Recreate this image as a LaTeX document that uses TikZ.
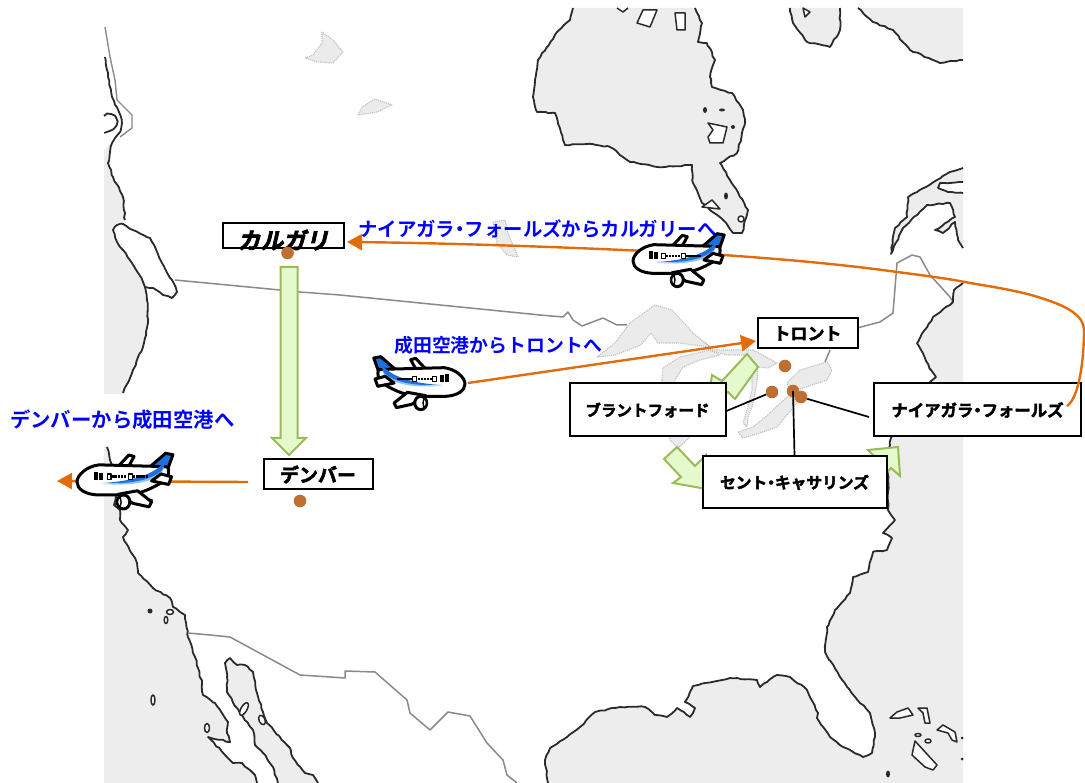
\documentclass[tikz,border=0pt]{standalone}
\usepackage{fontspec}
\usetikzlibrary{arrows.meta,decorations.pathmorphing}
\newfontfamily\cjkreg{Noto Sans CJK JP}[BoldFont={Noto Sans CJK JP Bold}]
\newfontfamily\cjkslant{Noto Sans CJK JP Bold}[FakeSlant=0.22,FakeBold=3]
\newfontfamily\cjkheavy{Noto Sans CJK JP Bold}[FakeBold=2.5]
\newcommand{\nk}{\kern-.25em・\kern-.25em}
\definecolor{sea}{HTML}{EDEDED}
\definecolor{lake}{HTML}{EBEBEB}
\definecolor{coast}{HTML}{2A2A2A}
\definecolor{bord}{HTML}{8A8A8A}
\definecolor{route}{HTML}{E36C0A}
\definecolor{pin}{HTML}{BE7032}
\definecolor{gedge}{HTML}{9BBB59}
\definecolor{gfill}{HTML}{E4F9CC}
\definecolor{planeblue}{HTML}{1F6FDC}
\definecolor{planesky}{HTML}{8FC4F0}
\tikzset{
  jag/.style={decorate,decoration={random steps,segment length=4pt,amplitude=.7pt}},
  seafill/.style={fill=sea,draw=coast,line width=1.8pt,line join=round},
  isle/.style={fill=white,draw=coast,line width=1.5pt,line join=round},
  rock/.style={fill=coast,draw=none},
  shore/.style={draw=coast,line width=1.8pt,line join=round,jag},
  border/.style={draw=bord,line width=1.5pt,line join=round},
  pale/.style={fill=lake,draw=lightgray,line width=1.1pt,densely dotted,line join=round},
  block/.style={draw=gedge,line width=2pt,line join=miter,fill=gfill},
  flight/.style={draw=route,line width=2.4pt,-{Triangle[length=15pt,width=16pt]}},
  label/.style={draw=black,line width=2pt,fill=white,inner sep=0pt,align=center,text=black},
  leader/.style={draw=black,line width=1.7pt},
  pinmark/.style={circle,fill=pin,draw=none,minimum size=12.6pt,inner sep=0pt},
  bluetext/.style={text=blue,inner sep=0pt,anchor=west},
  plane/.pic={
    \begin{scope}[shift={(-298,-115)},line width=3pt,line join=round]
      \draw[fill=white] (135,42) -- (150,38) -- (178,68) -- (150,70) -- cycle;
      \draw[fill=planeblue] (24,37) -- (45,33) -- (90,72) -- (38,76) -- cycle;
      \draw[fill=white] (85,70) -- (235,66) .. controls (270,70) and (298,95) .. (298,115)
        .. controls (298,135) and (275,150) .. (240,152) -- (160,152)
        .. controls (110,150) and (70,125) .. (45,110)
        .. controls (36,100) and (35,85) .. (38,72) -- cycle;
      \fill[planesky] (50,72) .. controls (80,100) and (130,122) .. (232,120)
        .. controls (140,128) and (85,115) .. (55,90) -- cycle;
      \fill[planeblue] (42,50) .. controls (70,90) and (130,112) .. (225,118)
        .. controls (140,122) and (85,108) .. (55,82) -- cycle;
      \draw[fill=white] (28,100) -- (58,92) -- (85,112) -- (36,122) -- cycle;
      \draw[fill=white] (125,140) -- (85,172) -- (92,186) -- (138,176) -- (180,150) -- cycle;
      \draw[fill=white] (165,172) ellipse [x radius=18,y radius=20];
      \draw[fill=white,line width=1.4pt] (177,172) ellipse [x radius=5,y radius=12];
      \foreach \wx in {95,104,113,122,131,157,166,175,184,193}
        \fill (\wx,96) rectangle ++(7,8);
      \draw[line width=1.2pt,fill=white] (140,92) rectangle (152,108);
      \draw[line width=1.2pt,fill=white] (201,92) rectangle (212,108);
      \fill (224,88) rectangle (234,108);
      \fill (238,86) rectangle (249,108);
    \end{scope}
  }
}
\begin{document}
\begin{tikzpicture}[x=1pt,y=-1pt]
\pgfmathsetseed{7}
\useasboundingbox (0,0) rectangle (1085,783);
\fill[white] (0,0) rectangle (1085,783);

% ---- Pacific
\path[fill=sea] (104,150) -- (112,143) -- (108,163) -- (113,177) -- (123,197) -- (125,220) -- (117,225) -- (145,287) -- (147,300) -- (148,323) -- (143,347) -- (133,370) -- (123,393) -- (107,447) -- (110,460) -- (120,510) -- (120,520) -- (128,530) -- (123,537) -- (137,563) -- (138,573) -- (153,588) -- (170,598) -- (173,607) -- (185,615) -- (188,637) -- (195,657) -- (202,683) -- (203,695) -- (215,703) -- (228,722) -- (227,733) -- (230,742) -- (208,737) -- (233,763) -- (242,763) -- (255,775) -- (257,783) -- (104,783) -- cycle;
\draw[shore] (105,57) -- (108,77) -- (112,97) -- (119,112) .. controls (122,120) and (122,128) .. (118,134) -- (112,143) -- (110,152) -- (108,163) -- (113,177) -- (123,197) -- (125,220);
\draw[shore] (104,116) .. controls (110,112) and (116,114) .. (116,122) .. controls (116,128) and (110,132) .. (104,132);
\draw[draw=bord,line width=1.4pt,line join=round] (105,27) -- (110,57) -- (115,80) -- (117,100) -- (132,115) -- (132,128) -- (120,137);
\draw[shore,fill=white] (113,230) -- (117,225) -- (123,224) -- (133,230) -- (150,238) -- (155,247) -- (162,263) -- (172,280) -- (177,292) -- (172,298) -- (163,295) -- (153,288) -- (145,287) -- (143,282) -- (132,263) -- (123,250) -- (117,242) -- cycle;
\draw[shore] (145,287) -- (147,300) -- (148,323) -- (143,347) -- (133,370) -- (123,393);
\draw[shore] (107,447) -- (110,460) -- (114,480) -- (116,497) -- (114,505) -- (120,510) -- (120,520) -- (128,530) -- (123,537) -- (137,563) -- (138,573) -- (153,588) -- (170,598) -- (173,607) -- (185,615) -- (188,637) -- (195,657) -- (202,683) -- (203,695) -- (215,703) -- (228,722) -- (227,733) -- (230,742) -- (208,737) -- (233,763) -- (242,763) -- (255,775) -- (257,783);
\draw[shore] (114,505) -- (125,500) -- (133,503) -- (150,505) -- (152,500) -- (140,498);
\fill[rock] (150,611) circle (2.5pt);
\draw[isle] (166,620) ellipse [x radius=1.8,y radius=3.5];
\draw[isle] (170,612) ellipse [x radius=3.5,y radius=2.5];
\draw[isle] (153,700) ellipse [x radius=2,y radius=5];
\draw[isle] (207,728) ellipse [x radius=2.5,y radius=4.5];
\path[fill=sea] (225,663) -- (230,658) -- (237,665) -- (245,665) -- (253,672) -- (257,693) -- (263,712) -- (267,723) -- (290,748) -- (293,758) -- (305,773) -- (313,775) -- (318,783) -- (278,783) -- (273,767) -- (263,753) -- (255,745) -- (253,730) -- (240,713) -- (227,692) -- (227,677) -- cycle;
\draw[shore] (318,783) -- (313,775) -- (305,773) -- (293,758) -- (290,748) -- (267,723) -- (263,712) -- (257,693) -- (253,672) -- (245,665) -- (237,665) -- (230,658) -- (225,663) -- (227,677) -- (227,692) -- (240,713) -- (253,730) -- (255,745) -- (263,753) -- (273,767) -- (278,783);
\draw[isle,rotate around={-30:(244,709)}] (244,709) ellipse [x radius=3,y radius=7];
\draw[isle,rotate around={25:(262,720)}] (262,720) ellipse [x radius=3,y radius=5];

% ---- Mexico border and 49th parallel
\draw[border] (188,633) -- (210,635) -- (230,637) -- (300,675) -- (345,678) -- (345,671) -- (375,672) -- (407,700) -- (410,713) -- (430,730) -- (448,712) -- (470,716) -- (487,743) -- (503,760) -- (507,775) -- (517,783);
\draw[border] (175,280) -- (280,290) -- (300,292) -- (340,295) -- (540,315) -- (563,317) -- (568,312) -- (573,320) -- (582,326) -- (603,318) -- (617,325) -- (627,325);
\draw[border] (693,335) -- (710,347);
\draw[border] (830,350) -- (825,362);
\draw[border] (857,328) -- (880,322) -- (893,313) -- (897,263) -- (912,255) -- (920,257) -- (930,275) -- (950,297) -- (953,302);

% ---- Great Lakes
\path[pale] (597,357) -- (615,343) -- (630,323) -- (655,305) -- (672,310) -- (693,333) -- (710,347) -- (679,343) -- (658,343) -- (651,333) -- (641,345) -- (615,355) -- cycle;
\path[pale] (662,380) -- (663,368) -- (680,357) -- (710,350) -- (720,355) -- (700,360) -- (683,367) -- (675,380) -- (677,400) -- (690,437) -- (678,448) -- (670,440) -- (663,400) -- cycle;
\path[pale] (708,350) -- (753,350) -- (777,363) -- (768,368) -- (758,367) -- (757,383) -- (752,407) -- (748,417) -- (747,427) -- (743,423) -- (748,407) -- (752,390) -- (752,373) -- (745,355) -- (727,355) -- cycle;
\path[pale] (743,438) -- (738,432) -- (753,427) -- (770,413) -- (787,397) -- (793,397) -- (797,403) -- (777,427) -- (760,433) -- cycle;
\path[pale] (787,383) -- (800,370) -- (827,362) -- (832,370) -- (827,380) -- (797,390) -- (790,392) -- cycle;
% ---- northern lakes
\path[pale] (305,58) -- (313,55) -- (322,43) -- (322,32) -- (333,40) -- (343,52) -- (333,63) -- (317,62) -- cycle;
\path[pale] (358,115) -- (362,107) -- (375,99) -- (392,105) -- (377,112) -- cycle;
\path[pale] (493,222) -- (505,220) -- (508,233) -- (518,257) -- (507,255) -- (497,243) -- cycle;

% ---- Hudson Bay
\path[fill=sea] (573,8) -- (570,20) -- (557,32) -- (547,47) -- (538,60) -- (535,80) -- (533,97) -- (537,112) -- (555,113) -- (565,145) -- (592,144) -- (610,147) -- (630,162) -- (657,167) -- (692,165) -- (693,183) -- (702,203) -- (723,220) -- (733,233) -- (742,233) -- (748,210) -- (720,163) -- (737,153) -- (745,123) -- (743,110) -- (732,93) -- (712,87) -- (710,77) -- (715,60) -- (707,43) -- (698,42) -- (702,23) -- (695,8) -- cycle;
\draw[shore] (573,8) -- (570,20) -- (557,32) -- (547,47) -- (538,60) -- (535,80) -- (533,97) -- (537,112) -- (555,113) -- (565,145) -- (592,144) -- (610,147) -- (630,162) -- (657,167) -- (692,165) -- (693,183) -- (702,203) -- (723,220) -- (733,233) -- (742,233) -- (748,210) -- (720,163) -- (737,153) -- (745,123) -- (743,110) -- (732,93) -- (712,87) -- (710,77) -- (715,60) -- (707,43) -- (698,42) -- (702,23) -- (695,8);
\draw[isle] (637,23) -- (643,10) -- (657,10) -- (650,27) -- cycle;
\draw[isle] (675,13) -- (685,13) -- (685,30) -- (677,30) -- cycle;
\draw[isle] (617,8) -- (623,12) -- (628,8);
\draw[isle] (708,123) -- (727,127) -- (723,143) -- (710,143) -- (708,137) -- (713,130) -- cycle;
\draw[isle] (702,207) -- (712,200) -- (720,209) -- cycle;
\fill[rock] (705,110) ellipse [x radius=2,y radius=3];
\fill[rock] (722,110) ellipse [x radius=3,y radius=1.5];
\fill[rock] (733,127) circle (2pt);
\fill[rock] (726,196) ellipse [x radius=2,y radius=3.5];
\draw[isle] (741,219) ellipse [x radius=3,y radius=3];

% ---- Top centre and right
\path[fill=sea] (790,8) -- (793,23) -- (807,42) -- (830,47) -- (840,30) -- (840,8) -- cycle;
\draw[shore] (790,8) -- (793,23) -- (807,42) -- (830,47) -- (840,30) -- (840,8);
\draw[isle] (803,8) -- (810,12) -- (805,17) -- cycle;
\path[fill=sea] (858,8) -- (873,22) -- (893,30) -- (910,50) -- (940,63) -- (963,60) -- (963,8) -- cycle;
\draw[shore] (858,8) -- (873,22) -- (893,30) -- (910,50) -- (940,63) -- (963,60);

% ---- Gulf of St Lawrence
\path[fill=sea] (891,254) -- (895,228) -- (907,217) -- (908,197) -- (937,180) -- (950,172) -- (963,168) -- (963,248) -- (958,240) -- (955,222) -- (943,233) -- (935,230) -- (955,217) -- (950,203) -- (927,205) -- (903,228) -- cycle;
\draw[shore] (963,168) -- (950,172) -- (937,180) -- (908,197) -- (907,217) -- (895,228) -- (891,254) -- (903,228) -- (927,205) -- (950,203) -- (955,217) -- (935,230) -- (943,233) -- (955,222) -- (958,240) -- (963,248);
\path[fill=white] (963,182) -- (940,183) -- (938,188) -- (948,192) -- (963,193) -- cycle;
\draw[shore] (963,182) -- (940,183) -- (938,188) -- (948,192) -- (963,193);

% ---- Atlantic and Gulf of Mexico
\path[fill=sea] (963,283) -- (954,290) -- (953,302) -- (933,317) -- (917,343) -- (931,370) -- (936,377) -- (929,383) -- (891,438) -- (888,457) -- (888,510) -- (895,520) -- (883,533) -- (892,538) -- (887,550) -- (873,552) -- (868,572) -- (853,577) -- (850,593) -- (835,610) -- (827,627) -- (825,652) -- (840,677) -- (855,697) -- (870,713) -- (875,733) -- (872,753) -- (863,757) -- (843,747) -- (830,737) -- (817,718) -- (818,713) -- (807,690) -- (790,677) -- (777,675) -- (760,687) -- (757,680) -- (730,678) -- (693,686) -- (685,702) -- (695,708) -- (693,713) -- (690,717) -- (677,708) -- (667,717) -- (655,715) -- (645,707) -- (620,707) -- (595,712) -- (580,727) -- (567,737) -- (550,748) -- (545,760) -- (548,783) -- (963,783) -- cycle;
\draw[shore] (963,283) -- (954,290) -- (953,302) -- (933,317) -- (917,343) -- (931,370) -- (936,377) -- (929,383) -- (891,438) -- (888,457) -- (888,510) -- (895,520) -- (883,533) -- (892,538) -- (887,550) -- (873,552) -- (868,572) -- (853,577) -- (850,593) -- (835,610) -- (827,627) -- (825,652) -- (840,677) -- (855,697) -- (870,713) -- (875,733) -- (872,753) -- (863,757) -- (843,747) -- (830,737) -- (817,718) -- (818,713) -- (807,690) -- (790,677) -- (777,675) -- (760,687) -- (757,680) -- (730,678) -- (693,686) -- (685,702) -- (695,708) -- (693,713) -- (690,717) -- (677,708) -- (667,717) -- (655,715) -- (645,707) -- (620,707) -- (595,712) -- (580,727) -- (567,737) -- (550,748) -- (545,760) -- (548,783);
\draw[isle] (890,718) -- (897,712) -- (908,708) -- (913,715) -- (900,718) -- cycle;
\draw[isle] (918,708) -- (927,708) -- (930,723) -- (925,723) -- (923,713) -- cycle;
\draw[isle] (937,730) -- (943,725) -- (955,732) -- (957,742) -- (952,740) -- (948,733) -- cycle;
\draw[isle] (912,755) -- (915,741) -- (937,765) -- (933,770) -- (925,767) -- cycle;
\draw[isle] (918,735) ellipse [x radius=3,y radius=1.5];
\draw[isle] (928,741) ellipse [x radius=3,y radius=2];
\fill[rock] (888,774) ellipse [x radius=2,y radius=3.5];
\fill[rock] (962,738) circle (1.5pt);
\fill[rock] (962,759) circle (1.5pt);

% ---- white patch behind the Denver caption
\fill[white] (0,394) rectangle (240,446);

% ---- green block arrows
\draw[block] (280.5,267) -- (297.5,267) -- (297.5,438) -- (306,438) -- (289,455) -- (272,438) -- (280.5,438) -- cycle;
\draw[block] (747,354) -- (758,367) -- (735,399) -- (728,392) -- (708,402) -- (712,375) -- (722,381) -- cycle;
\draw[block] (677,447) -- (664,459) -- (681,477) -- (673,483) -- (712,490) -- (706,455) -- (695,466) -- cycle;
\draw[block] (868,450) -- (898,447) -- (900,476) -- (891,468) -- (870,490) -- (858,478) -- (877,459) -- cycle;

% ---- labels
\node[label,font=\cjkheavy\fontsize{15.5}{16}\selectfont,minimum width=156pt,minimum height=53pt] (brant) at (647.5,410) {ブラントフォード};
\node[label,font=\cjkheavy\fontsize{16.4}{17}\selectfont,minimum width=207pt,minimum height=53pt] (niag) at (977.5,410) {ナイアガラ\nk フォールズ};
\node[label,font=\cjkheavy\fontsize{15.7}{16}\selectfont,minimum width=184pt,minimum height=52pt] (cath) at (794.5,482.5) {セント\nk キャサリンズ};
\node[label,font=\cjkheavy\fontsize{17}{18}\selectfont,minimum width=100pt,minimum height=30pt] (toronto) at (807.5,333.5) {トロント};
\node[label,font=\cjkheavy\fontsize{19}{20}\selectfont,minimum width=109pt,minimum height=30pt] (denver) at (318,474.5) {デンバー};
\node[label,minimum width=121pt,minimum height=25pt] (calgary) at (283,236) {};
\node[inner sep=0pt,font=\cjkslant\fontsize{23}{24}\selectfont] (calgarytext) at (283,240) {カルガリ};

% ---- orange routes
\coordinate (denverout) at (248,482);
\coordinate (naritaend) at (57,481);
\coordinate (naritastart) at (468,383);
\coordinate (torontoin) at (756,341);
\coordinate (niagout) at (1067,406);
\coordinate (calgaryin) at (347,242);
\coordinate (c1) at (1084,330);
\coordinate (c2) at (1047,300);
\coordinate (c3) at (970,283);
\coordinate (c4) at (897,272);
\coordinate (c5) at (723,255);
\draw[flight] (denverout) -- (naritaend);
\draw[flight] (naritastart) -- (torontoin);
\draw[flight] (niagout) .. controls (1079,398) and (1084,360) .. (c1)
   .. controls (1084,315) and (1065,306) .. (c2)
   .. controls (1025,292) and (1000,288) .. (c3)
   .. controls (945,278) and (920,275) .. (c4)
   .. controls (840,264) and (780,259) .. (c5)
   .. controls (600,248) and (450,243) .. (calgaryin);

% ---- aeroplanes
\pic[shift={(465,384)},scale=0.333] (planeA) {plane};
\pic[shift={(633,261)},xscale=-0.333,yscale=0.333] (planeB) {plane};
\pic[shift={(77,482)},xscale=-0.35,yscale=0.35] (planeC) {plane};

% ---- city markers
\node[pinmark] (pcal) at (287.5,253) {};
\node[pinmark] (pden) at (300,501) {};
\node[pinmark] (ptor) at (785,366) {};
\node[pinmark] (pbra) at (772,392) {};
\node[pinmark] (pcat) at (793,391) {};
\node[pinmark] (pnia) at (801,397) {};
\coordinate (niagline) at (869,417);
\draw[leader] (brant.east |- 0,411) -- (pbra);
\draw[leader] (cath.north) -- (pcat.center);
\draw[leader] (niagline) -- (pnia);

% ---- captions
\node[bluetext,font=\cjkreg\bfseries\fontsize{19.4}{20}\selectfont] (capA) at (358,229) {ナイアガラ\nk フォールズからカルガリーへ};
\node[bluetext,font=\cjkreg\bfseries\fontsize{18.9}{20}\selectfont] (capB) at (394,345) {成田空港からトロントへ};
\node[bluetext,font=\cjkreg\bfseries\fontsize{20.4}{21}\selectfont] (capC) at (10,420) {デンバーから成田空港へ};
\end{tikzpicture}
\end{document}
